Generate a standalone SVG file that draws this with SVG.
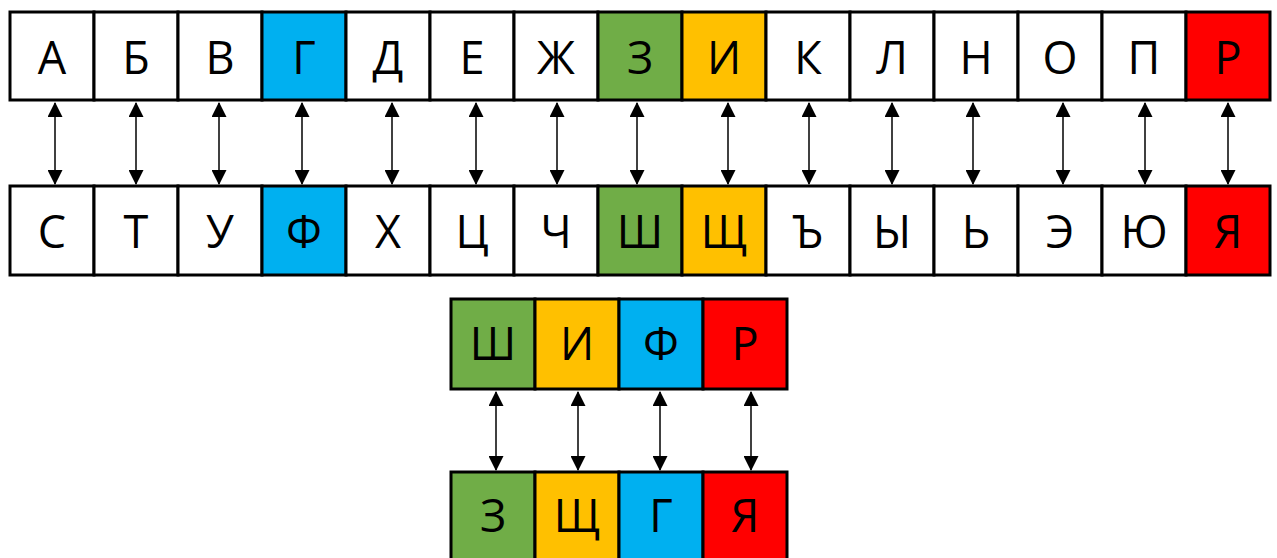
<svg xmlns="http://www.w3.org/2000/svg" width="1277" height="558" viewBox="0 0 1277 558">
<style>
.c{stroke:#000;stroke-width:3;fill:#fff}
.b{fill:#00B0F0}.g{fill:#70AD47}.y{fill:#FFC000}.r{fill:#FF0000}
text{font-family:"Open Sans","DejaVu Sans",sans-serif;font-size:45px;fill:#000;text-anchor:middle}
.a{stroke:#000;stroke-width:1.5;fill:none;marker-start:url(#h);marker-end:url(#h)}
</style>
<defs>
<marker id="h" markerUnits="userSpaceOnUse" markerWidth="15" markerHeight="15" refX="14" refY="7.5" orient="auto-start-reverse" viewBox="0 0 15 15">
<path d="M0,0 L15,7.5 L0,15 z" fill="#000"/>
</marker>
</defs>
<rect width="1277" height="558" fill="#fff"/>
<g id="top-row">
<g id="n-A"><rect class="c" x="10" y="12" width="84" height="88"/><text x="52" y="74">А</text></g>
<g id="n-B"><rect class="c" x="94" y="12" width="84" height="88"/><text x="136" y="74">Б</text></g>
<g id="n-V"><rect class="c" x="178" y="12" width="84" height="88"/><text x="220" y="74">В</text></g>
<g id="n-G"><rect class="c b" x="262" y="12" width="84" height="88"/><text x="304" y="74">Г</text></g>
<g id="n-D"><rect class="c" x="346" y="12" width="84" height="88"/><text x="388" y="74">Д</text></g>
<g id="n-E"><rect class="c" x="430" y="12" width="84" height="88"/><text x="472" y="74">Е</text></g>
<g id="n-Zh"><rect class="c" x="514" y="12" width="84" height="88"/><text x="556" y="74">Ж</text></g>
<g id="n-Z"><rect class="c g" x="598" y="12" width="84" height="88"/><text x="640" y="74">З</text></g>
<g id="n-I"><rect class="c y" x="682" y="12" width="84" height="88"/><text x="724" y="74">И</text></g>
<g id="n-K"><rect class="c" x="766" y="12" width="84" height="88"/><text x="808" y="74">К</text></g>
<g id="n-L"><rect class="c" x="850" y="12" width="84" height="88"/><text x="892" y="74">Л</text></g>
<g id="n-N"><rect class="c" x="934" y="12" width="84" height="88"/><text x="976" y="74">Н</text></g>
<g id="n-O"><rect class="c" x="1018" y="12" width="84" height="88"/><text x="1060" y="74">О</text></g>
<g id="n-P"><rect class="c" x="1102" y="12" width="84" height="88"/><text x="1144" y="74">П</text></g>
<g id="n-R"><rect class="c r" x="1186" y="12" width="84" height="88"/><text x="1228" y="74">Р</text></g>
</g>
<g id="bottom-row">
<g id="n-S"><rect class="c" x="10" y="186" width="84" height="89"/><text x="52" y="248">С</text></g>
<g id="n-T"><rect class="c" x="94" y="186" width="84" height="89"/><text x="136" y="248">Т</text></g>
<g id="n-U"><rect class="c" x="178" y="186" width="84" height="89"/><text x="220" y="248">У</text></g>
<g id="n-F"><rect class="c b" x="262" y="186" width="84" height="89"/><text x="304" y="248">Ф</text></g>
<g id="n-H"><rect class="c" x="346" y="186" width="84" height="89"/><text x="388" y="248">Х</text></g>
<g id="n-Ts"><rect class="c" x="430" y="186" width="84" height="89"/><text x="472" y="248">Ц</text></g>
<g id="n-Ch"><rect class="c" x="514" y="186" width="84" height="89"/><text x="556" y="248">Ч</text></g>
<g id="n-Sh"><rect class="c g" x="598" y="186" width="84" height="89"/><text x="640" y="248">Ш</text></g>
<g id="n-Shch"><rect class="c y" x="682" y="186" width="84" height="89"/><text x="724" y="248">Щ</text></g>
<g id="n-Hard"><rect class="c" x="766" y="186" width="84" height="89"/><text x="808" y="248">Ъ</text></g>
<g id="n-Y"><rect class="c" x="850" y="186" width="84" height="89"/><text x="892" y="248">Ы</text></g>
<g id="n-Soft"><rect class="c" x="934" y="186" width="84" height="89"/><text x="976" y="248">Ь</text></g>
<g id="n-Ee"><rect class="c" x="1018" y="186" width="84" height="89"/><text x="1060" y="248">Э</text></g>
<g id="n-Yu"><rect class="c" x="1102" y="186" width="84" height="89"/><text x="1144" y="248">Ю</text></g>
<g id="n-Ya"><rect class="c r" x="1186" y="186" width="84" height="89"/><text x="1228" y="248">Я</text></g>
</g>
<g id="word-plain">
<g id="w-Sh"><rect class="c g" x="451" y="299" width="84" height="90"/><text x="493" y="360">Ш</text></g>
<g id="w-I"><rect class="c y" x="535" y="299" width="84" height="90"/><text x="577" y="360">И</text></g>
<g id="w-F"><rect class="c b" x="619" y="299" width="84" height="90"/><text x="661" y="360">Ф</text></g>
<g id="w-R"><rect class="c r" x="703" y="299" width="84" height="90"/><text x="745" y="360">Р</text></g>
</g>
<g id="word-cipher">
<g id="c-Z"><rect class="c g" x="451" y="472" width="84" height="92"/><text x="493" y="532">З</text></g>
<g id="c-Shch"><rect class="c y" x="535" y="472" width="84" height="92"/><text x="577" y="532">Щ</text></g>
<g id="c-G"><rect class="c b" x="619" y="472" width="84" height="92"/><text x="661" y="532">Г</text></g>
<g id="c-Ya"><rect class="c r" x="703" y="472" width="84" height="92"/><text x="745" y="532">Я</text></g>
</g>
<g id="connectors">
<line class="a" x1="55" y1="103" x2="55" y2="184"/>
<line class="a" x1="136" y1="103" x2="136" y2="184"/>
<line class="a" x1="219" y1="103" x2="219" y2="184"/>
<line class="a" x1="302" y1="103" x2="302" y2="184"/>
<line class="a" x1="392" y1="103" x2="392" y2="184"/>
<line class="a" x1="476" y1="103" x2="476" y2="184"/>
<line class="a" x1="557" y1="103" x2="557" y2="184"/>
<line class="a" x1="637" y1="103" x2="637" y2="184"/>
<line class="a" x1="728" y1="103" x2="728" y2="184"/>
<line class="a" x1="809" y1="103" x2="809" y2="184"/>
<line class="a" x1="892" y1="103" x2="892" y2="184"/>
<line class="a" x1="973" y1="103" x2="973" y2="184"/>
<line class="a" x1="1063" y1="103" x2="1063" y2="184"/>
<line class="a" x1="1145" y1="103" x2="1145" y2="184"/>
<line class="a" x1="1228" y1="103" x2="1228" y2="184"/>
<line class="a" x1="496" y1="392" x2="496" y2="470"/>
<line class="a" x1="578" y1="392" x2="578" y2="470"/>
<line class="a" x1="660" y1="392" x2="660" y2="470"/>
<line class="a" x1="751" y1="392" x2="751" y2="470"/>
</g>
</svg>
